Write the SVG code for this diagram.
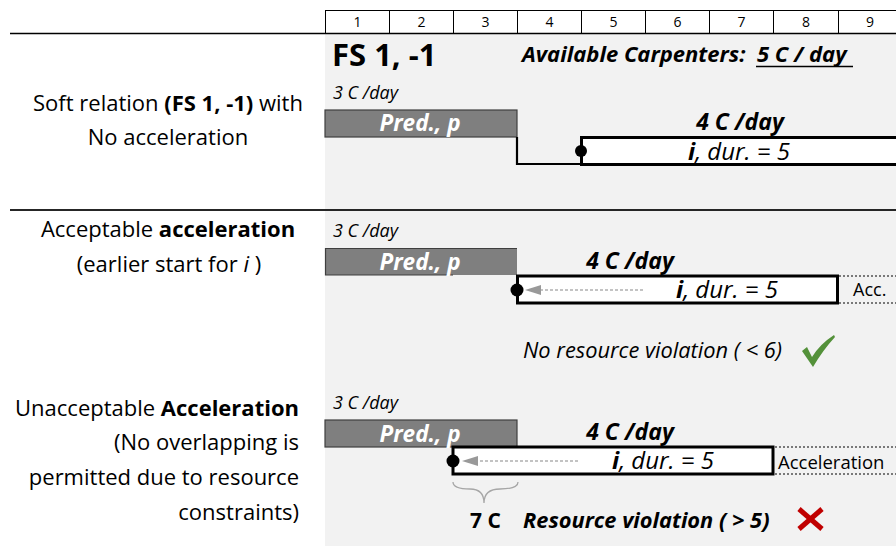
<svg xmlns="http://www.w3.org/2000/svg" width="896" height="546" viewBox="0 0 896 546">
  <style>
    text { font-family: "Open Sans", "Noto Sans", "Liberation Sans", sans-serif; fill: #000; }
    .hdr { font-size: 14px; text-anchor: middle; }
    .side { font-size: 22px; }
    .rate { font-size: 18px; font-style: italic; }
    .pred { font-size: 22.5px; font-weight: bold; font-style: italic; fill: #fff; text-anchor: middle; }
    .need { font-size: 23px; font-weight: bold; font-style: italic; text-anchor: middle; }
    .act { font-size: 24px; font-style: italic; text-anchor: middle; }
    .predbar { fill: #7f7f7f; stroke: #3f3f3f; stroke-width: 1.2; }
    .actbar { fill: #fff; stroke: #000; stroke-width: 3; }
    .link { fill: none; stroke: #000; stroke-width: 2.2; }
    .dotted { stroke: #000; stroke-width: 1.2; stroke-dasharray: 2 2; }
    .shift { stroke: #b0b0b0; stroke-width: 1.5; stroke-dasharray: 3 2; }
    .head { fill: #999; }
  </style>

  <!-- background of the chart area -->
  <rect x="0" y="0" width="896" height="546" fill="#fff"/>
  <rect x="325" y="34" width="571" height="512" fill="#f2f2f2"/>

  <!-- day header -->
  <g id="day-header">
    <rect x="325.5" y="10.5" width="580" height="23" fill="#fff" stroke="#000" stroke-width="1"/>
    <g stroke="#000" stroke-width="1">
      <line x1="389.5" y1="10.5" x2="389.5" y2="33.5"/>
      <line x1="453.5" y1="10.5" x2="453.5" y2="33.5"/>
      <line x1="517.5" y1="10.5" x2="517.5" y2="33.5"/>
      <line x1="581.5" y1="10.5" x2="581.5" y2="33.5"/>
      <line x1="645.5" y1="10.5" x2="645.5" y2="33.5"/>
      <line x1="709.5" y1="10.5" x2="709.5" y2="33.5"/>
      <line x1="773.5" y1="10.5" x2="773.5" y2="33.5"/>
      <line x1="838.5" y1="10.5" x2="838.5" y2="33.5"/>
    </g>
    <text class="hdr" x="357.5" y="27">1</text>
    <text class="hdr" x="421.5" y="27">2</text>
    <text class="hdr" x="485.5" y="27">3</text>
    <text class="hdr" x="549.5" y="27">4</text>
    <text class="hdr" x="613.5" y="27">5</text>
    <text class="hdr" x="677.5" y="27">6</text>
    <text class="hdr" x="741.5" y="27">7</text>
    <text class="hdr" x="806" y="27">8</text>
    <text class="hdr" x="870" y="27">9</text>
  </g>

  <!-- section rules -->
  <line x1="10" y1="33.5" x2="896" y2="33.5" stroke="#000" stroke-width="1.5"/>
  <line x1="10" y1="210" x2="896" y2="210" stroke="#262626" stroke-width="2"/>

  <!-- title and resource limit -->
  <g id="title">
    <text x="332" y="66" font-size="31" font-weight="bold">FS 1, -1</text>
    <text x="522" y="62" font-size="22" font-weight="bold" font-style="italic">Available Carpenters:</text>
    <text x="757" y="62" font-size="22" font-weight="bold" font-style="italic">5 C / day</text>
    <line x1="756" y1="66.5" x2="853" y2="66.5" stroke="#000" stroke-width="1.5"/>
  </g>

  <!-- row labels -->
  <g id="label-soft" class="side">
    <text x="168" y="111" text-anchor="middle">Soft relation <tspan font-weight="bold">(FS 1, -1)</tspan> with</text>
    <text x="168" y="145" text-anchor="middle">No acceleration</text>
  </g>
  <g id="label-acceptable" class="side">
    <text x="168" y="237" text-anchor="middle">Acceptable  <tspan font-weight="bold">acceleration</tspan></text>
    <text x="169" y="272" text-anchor="middle">(earlier start for <tspan font-style="italic">i</tspan> )</text>
  </g>
  <g id="label-unacceptable" class="side" text-anchor="end">
    <text x="299" y="416">Unacceptable  <tspan font-weight="bold">Acceleration</tspan></text>
    <text x="299" y="450">(No overlapping is</text>
    <text x="299" y="485">permitted due to resource</text>
    <text x="299" y="520">constraints)</text>
  </g>

  <!-- scenario 1: no acceleration -->
  <g id="pred-1">
    <text class="rate" x="333" y="99">3 C /day</text>
    <rect class="predbar" x="325" y="110" width="192" height="27"/>
    <text class="pred" x="420" y="131">Pred., p</text>
  </g>
  <g id="act-1">
    <text class="need" x="740" y="130">4 C /day</text>
    <rect class="actbar" x="581.5" y="137.5" width="330" height="27"/>
    <text class="act" x="739" y="160"><tspan font-weight="bold">i</tspan>, dur. = 5</text>
  </g>

  <!-- scenario 2: acceptable acceleration -->
  <g id="pred-2">
    <text class="rate" x="333" y="237">3 C /day</text>
    <rect x="325" y="248" width="192" height="27" fill="#7f7f7f"/>
    <path d="M453,275 L325.5,275 L325.5,248.5 L517,248.5" fill="none" stroke="#3f3f3f" stroke-width="1.2"/>
    <text class="pred" x="420" y="270">Pred., p</text>
  </g>
  <g id="act-2">
    <text class="need" x="630" y="269">4 C /day</text>
    <rect class="actbar" x="517.5" y="276" width="320" height="27"/>
    <text class="act" x="727" y="298"><tspan font-weight="bold">i</tspan>, dur. = 5</text>
    <text x="853" y="296" font-size="18">Acc.</text>
  </g>
  <g id="check">
    <text x="523" y="358" font-size="21.8" font-style="italic">No resource violation ( &lt; 6)</text>
    <path d="M802,351 L807,347 L812,357 Q820,344 834,335 L835,337 Q823,350 813,367 Z" fill="#54913a"/>
  </g>

  <!-- scenario 3: unacceptable acceleration -->
  <g id="pred-3">
    <text class="rate" x="333" y="409">3 C /day</text>
    <rect class="predbar" x="325" y="420" width="192" height="27"/>
    <text class="pred" x="420" y="442">Pred., p</text>
  </g>
  <g id="act-3">
    <text class="need" x="630" y="440">4 C /day</text>
    <rect class="actbar" x="453" y="447" width="320" height="27"/>
    <text class="act" x="663" y="469"><tspan font-weight="bold">i</tspan>, dur. = 5</text>
    <text x="778" y="469" font-size="18.5">Acceleration</text>
  </g>
  <g id="violation">
    <path d="M453,482 Q453,489 470,489 Q484,489 484,503 Q484,489 500,489 Q518,489 518,482" fill="none" stroke="#a6a6a6" stroke-width="1.3"/>
    <text x="470" y="528" font-size="21" font-weight="bold">7 C</text>
    <text x="523" y="528" font-size="21.8" font-weight="bold" font-style="italic">Resource violation ( &gt; 5)</text>
    <g stroke="#c00000" stroke-width="5" stroke-linecap="butt">
      <line x1="799" y1="509" x2="822" y2="529"/>
      <line x1="822" y1="509" x2="799" y2="529"/>
    </g>
  </g>

  <!-- connectors -->
  <g id="connectors">
    <polyline class="link" points="517,137 517,164 581,164"/>
    <circle cx="581" cy="151" r="6" fill="#000"/>
    <line class="dotted" x1="839" y1="276" x2="896" y2="276"/>
    <line class="dotted" x1="839" y1="303" x2="896" y2="303"/>
    <line class="shift" x1="643" y1="290" x2="541" y2="290"/>
    <path class="head" d="M525,290 L541,285 L541,295 Z"/>
    <circle cx="517" cy="290" r="6.5" fill="#000"/>
    <line class="dotted" x1="775" y1="447" x2="896" y2="447"/>
    <line class="dotted" x1="775" y1="474" x2="896" y2="474"/>
    <line class="shift" x1="578" y1="461" x2="478" y2="461"/>
    <path class="head" d="M462,461 L478,456 L478,466 Z"/>
    <circle cx="453" cy="461" r="6.5" fill="#000"/>
  </g>
</svg>
